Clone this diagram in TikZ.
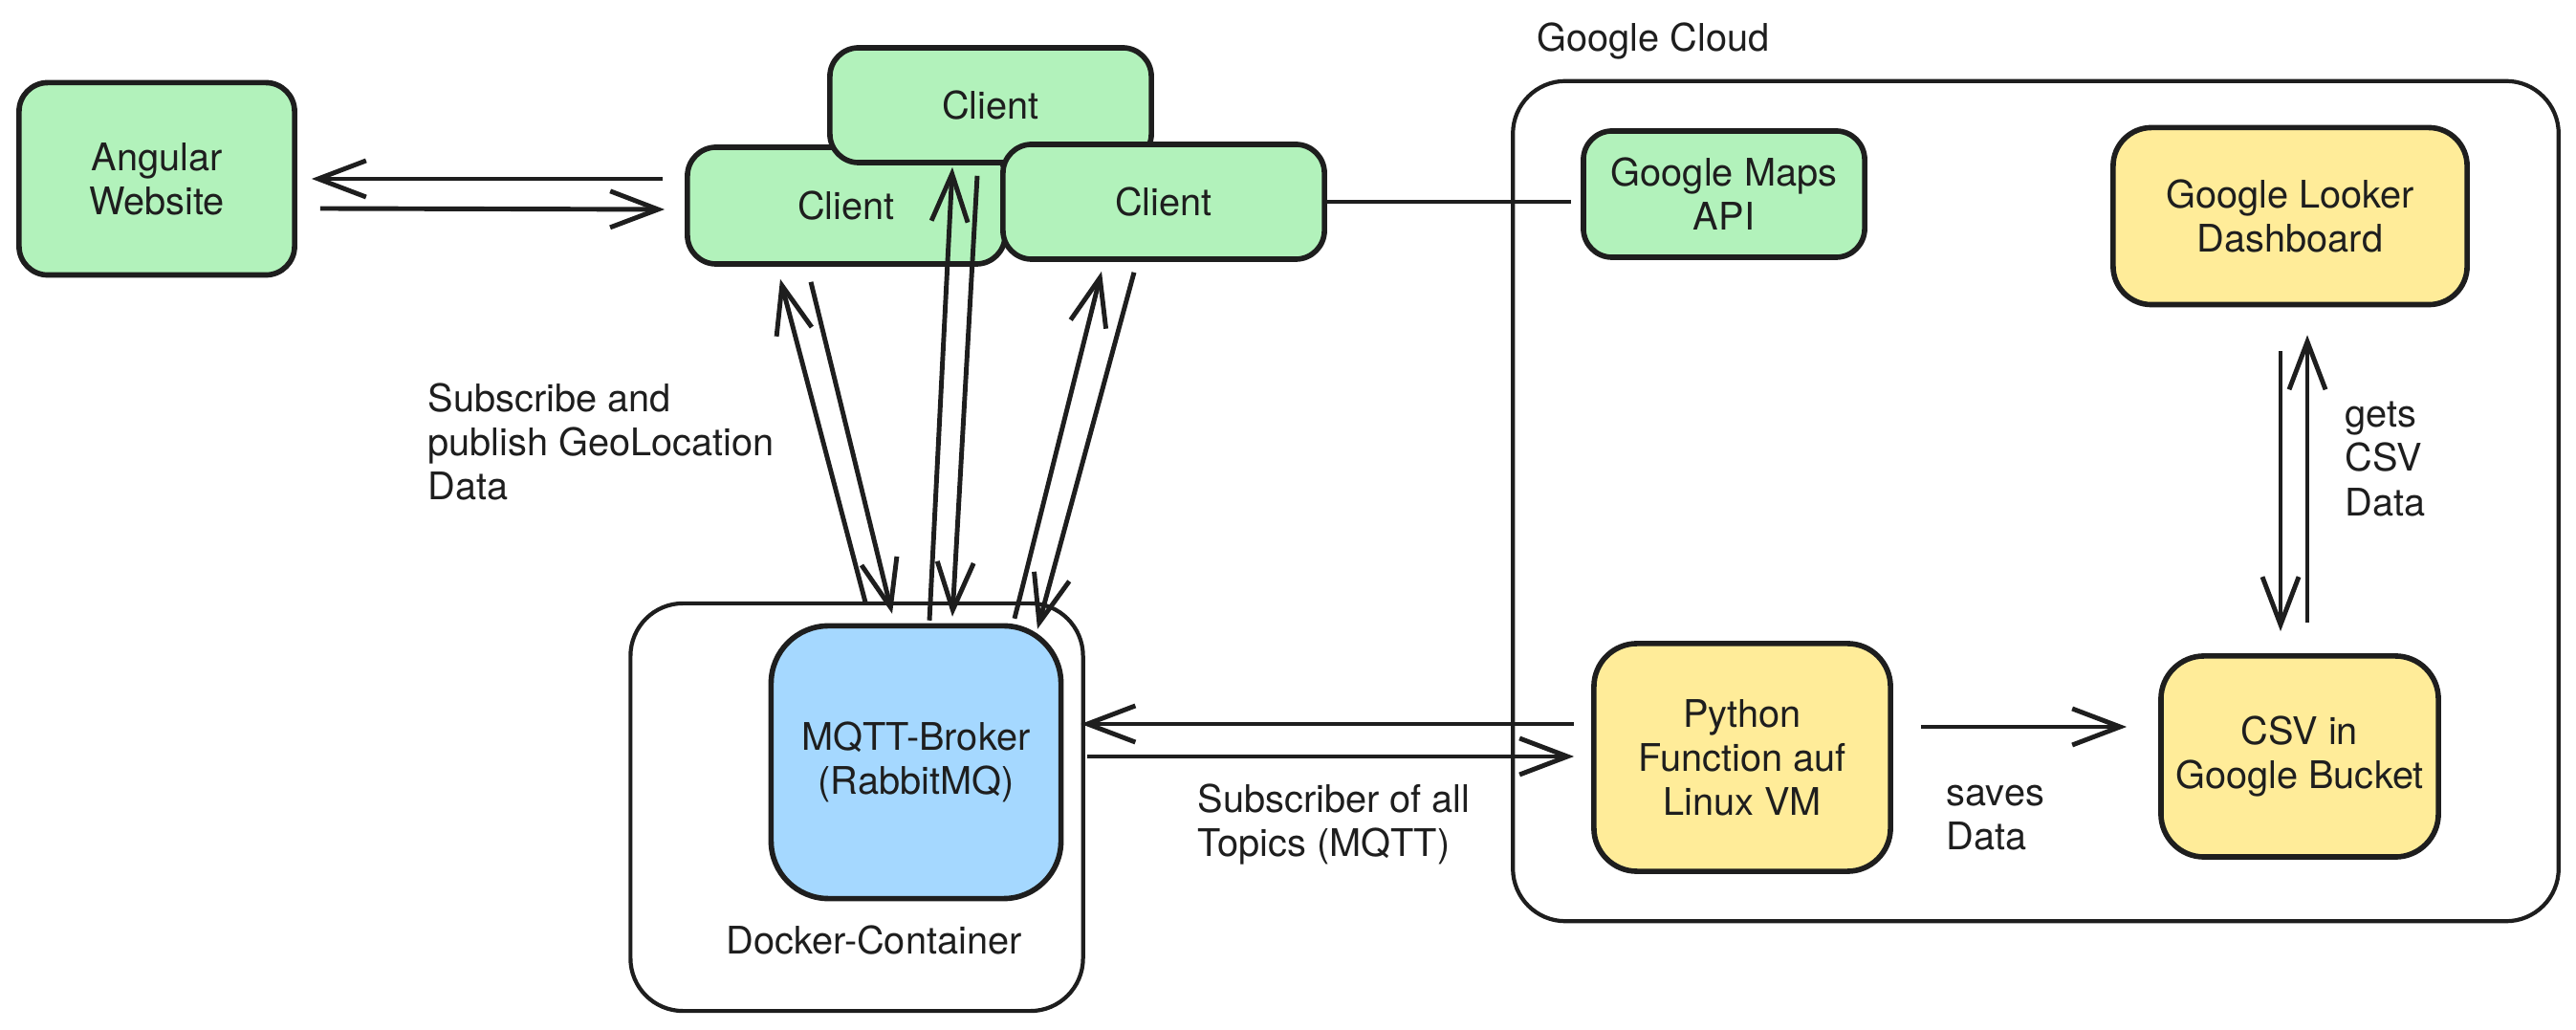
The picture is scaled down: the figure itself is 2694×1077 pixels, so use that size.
\documentclass[tikz,border=0pt]{standalone}
\usepackage{fontspec}
\setmainfont{TeX Gyre Heros}
\usepackage{xcolor}
\usepackage{tikz}
\usetikzlibrary{arrows.meta,calc}

\definecolor{ink}{HTML}{1E1E1E}
\definecolor{boxgreen}{HTML}{B2F2BB}
\definecolor{boxyellow}{HTML}{FFEC99}
\definecolor{boxblue}{HTML}{A5D8FF}

\begin{document}
\begin{tikzpicture}[x=0.01cm, y=-0.01cm,
  every node/.style={font=\fontsize{11.3}{13.1}\selectfont, text=ink},
  block/.style={draw=ink, line width=1.6pt, rounded corners=0.3cm, align=center, inner sep=0pt},
  frame/.style={draw=ink, line width=1.2pt, rounded corners=0.55cm, inner sep=0pt},
  lbl/.style={anchor=west, align=left, inner sep=0pt},
  arr/.style={draw=ink, line width=1.4pt, -{Straight Barb[length=5mm, width=3.8mm, line width=1.4pt]}},
  link/.style={draw=ink, line width=1.4pt}]
\useasboundingbox (0,0) rectangle (2694,1077);

\node[frame, minimum width=4.73cm, minimum height=4.26cm] (dock) at (896,844) {};
\node[frame, minimum width=10.93cm, minimum height=8.78cm] (cloud) at (2129,524) {};
\node[lbl] (cloudlbl) at (1607,43) {Google Cloud};
\node (docklbl) at (914,983) {Docker-Container};

\node[block, fill=boxgreen, minimum width=2.88cm, minimum height=2.01cm] (ang) at (164,187) {Angular\\Website};
\node[block, fill=boxgreen, minimum width=3.32cm, minimum height=1.22cm] (cl) at (885,215) {Client};
\node[block, fill=boxgreen, minimum width=3.36cm, minimum height=1.2cm] (ct) at (1036,110) {Client};
\node[block, fill=boxgreen, minimum width=3.36cm, minimum height=1.2cm] (cr) at (1217,211) {Client};
\node[block, fill=boxblue, rounded corners=0.6cm, minimum width=3.03cm, minimum height=2.85cm] (broker) at (958,797) {MQTT-Broker\\(RabbitMQ)};
\node[block, fill=boxgreen, minimum width=2.94cm, minimum height=1.32cm] (maps) at (1803,203) {Google Maps\\API};
\node[block, fill=boxyellow, rounded corners=0.4cm, minimum width=3.7cm, minimum height=1.85cm] (looker) at (2395,226) {Google Looker\\Dashboard};
\node[block, fill=boxyellow, rounded corners=0.45cm, minimum width=3.1cm, minimum height=2.38cm] (py) at (1822,792) {Python\\Function auf\\Linux VM};
\node[block, fill=boxyellow, rounded corners=0.45cm, minimum width=2.9cm, minimum height=2.1cm] (csv) at (2405,791) {CSV in\\Google Bucket};

\node[lbl] (sublbl) at (447,462) {Subscribe and\\publish GeoLocation\\Data};
\node[lbl] (topiclbl) at (1252,862) {Subscriber of all\\Topics (MQTT)};
\node[lbl] (saveslbl) at (2035,855) {saves\\Data};
\node[lbl] (getslbl) at (2452,480) {gets\\CSV\\Data};

\draw[arr] ($(cl.west)+(-23,-28)$) -- ($(ang.east)+(15,0)$);
\draw[arr] ($(ang.east)+(24,31)$) -- ($(cl.west)+(-21,4)$);

\draw[arr] ($(dock.north)+(9,1)$) -- ($(cl.south)+(-69,13)$);
\draw[arr] ($(cl.south)+(-37,16)$) -- ($(dock.north)+(37,13)$);
\draw[arr] ($(dock.north)+(76,20)$) -- ($(ct.south)+(-40,2)$);
\draw[arr] ($(ct.south)+(-14,11)$) -- ($(dock.north)+(100,16)$);
\draw[arr] ($(dock.north)+(165,18)$) -- ($(cr.south)+(-65,10)$);
\draw[arr] ($(cr.south)+(-31,11)$) -- ($(dock.north)+(189,29)$);

\draw[link] (cr.east) -- ($(maps.west)+(-10,8)$);

\draw[arr] ($(py.west)+(-18,-35)$) -- ($(broker.east)+(18,-40)$);
\draw[arr] ($(broker.east)+(25,-6)$) -- ($(py.west)+(-18,-1)$);
\draw[arr] ($(py.east)+(29,-32)$) -- ($(csv.west)+(-33,-31)$);

\draw[arr] ($(looker.south)+(-10,46)$) -- ($(csv.north)+(-20,-23)$);
\draw[arr] ($(csv.north)+(8,-32)$) -- ($(looker.south)+(18,29)$);
\end{tikzpicture}
\end{document}
